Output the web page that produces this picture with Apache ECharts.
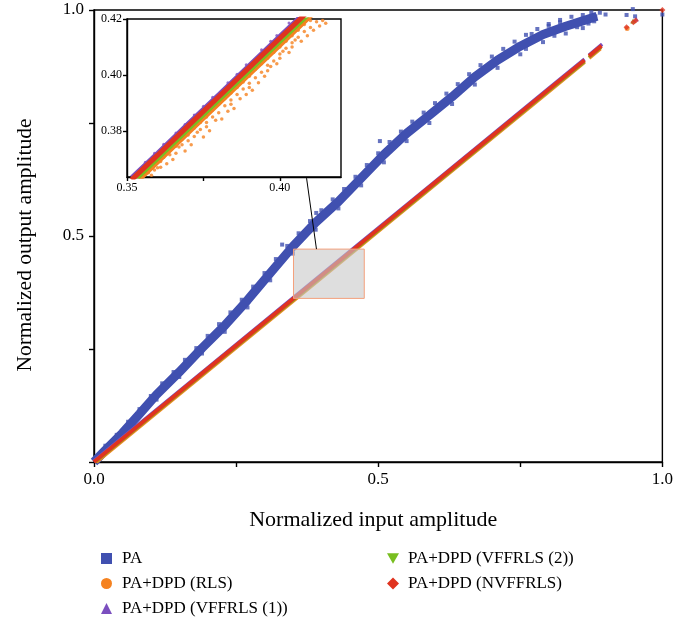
<!DOCTYPE html>
<html>
<head>
<meta charset="utf-8">
<script src="https://cdn.jsdelivr.net/npm/echarts@6/dist/echarts.min.js"></script>
<style>html,body{margin:0;padding:0;background:#fff}#c{width:676px;height:626px}</style>
</head>
<body>
<div id="c"></div>
<script>
// ---------- data ----------
const seriesNames = ['PA', 'PA+DPD (RLS)', 'PA+DPD (VFFRLS (1))', 'PA+DPD (VFFRLS (2))', 'PA+DPD (NVFFRLS)'];
const xTickLabels = ['0.0', '', '0.5', '', '1.0'];
const yTickLabels = ['', '', '0.5', '', '1.0'];
const insetXTicks = [0.35, 0.375, 0.40];
const insetXLabels = [0.35, 0.40];
const insetYTicks = [0.38, 0.40, 0.42];

// PA: centre of the dense band
const paBand = [[0,0],[0.02,0.026],[0.05,0.064],[0.08,0.106],[0.11,0.149],[0.15,0.199],[0.19,0.252],[0.23,0.302],[0.27,0.358],[0.31,0.418],[0.35,0.477],[0.39,0.530],[0.43,0.576],[0.47,0.628],[0.51,0.680],[0.55,0.727],[0.59,0.767],[0.63,0.808],[0.67,0.852],[0.71,0.889],[0.75,0.920],[0.79,0.946],[0.83,0.964],[0.86,0.976],[0.885,0.986]];
// PA: points on the upper rough edge of the band
const paUpper = [[0.02,0.036],[0.04,0.060],[0.06,0.089],[0.08,0.117],[0.10,0.146],[0.12,0.174],[0.14,0.199],[0.16,0.226],[0.18,0.252],[0.20,0.279],[0.22,0.305],[0.24,0.331],[0.26,0.359],[0.28,0.388],[0.30,0.418],[0.32,0.449],[0.34,0.478],[0.36,0.506],[0.38,0.533],[0.40,0.557],[0.42,0.581],[0.44,0.604],[0.46,0.631],[0.48,0.657],[0.50,0.683],[0.52,0.708],[0.54,0.731],[0.56,0.753],[0.58,0.773],[0.60,0.794],[0.62,0.815],[0.64,0.836],[0.66,0.858],[0.68,0.878],[0.70,0.897],[0.72,0.914],[0.74,0.930],[0.76,0.945],[0.78,0.958],[0.80,0.969],[0.82,0.978],[0.84,0.985]];
// PA: points on the lower rough edge of the band
const paLower = [[0.03,0.030],[0.07,0.081],[0.11,0.138],[0.15,0.188],[0.19,0.240],[0.23,0.288],[0.27,0.342],[0.31,0.402],[0.35,0.461],[0.39,0.514],[0.43,0.561],[0.47,0.612],[0.51,0.663],[0.55,0.710],[0.59,0.750],[0.63,0.792],[0.67,0.835],[0.71,0.872],[0.75,0.902],[0.79,0.929],[0.83,0.948],[0.86,0.960]];
// PA: outliers and the sparse top end
const paOutliers = [[0.331,0.481],[0.391,0.551],[0.503,0.71],[0.76,0.914],[0.77,0.947],[0.8,0.965],[0.81,0.943],[0.82,0.973],[0.85,0.962],[0.86,0.989],[0.87,0.97],[0.875,0.995],[0.88,0.975],[0.882,0.986],[0.89,0.994],[0.9,0.99],
  [0.937,0.989],[0.948,1.002],[0.952,0.986],[1.0,0.99]];

// DPD bands (gap marks a break in the band)
const gap = ['-','-'];
const rlsBand = [[0.004,0],[0.2,0.202],[0.4,0.408],[0.6,0.614],[0.8,0.82],[0.863,0.885],gap,[0.871,0.894],[0.891,0.915]];
const vff2Band = [[0.002,0],[0.2,0.2035],[0.4,0.4095],[0.6,0.6155],[0.8,0.8215],[0.863,0.8865],gap,[0.871,0.8955],[0.892,0.918]];
const vff1Band = [[0,0.0025],[0.2,0.2085],[0.4,0.4145],[0.6,0.6205],[0.8,0.8265],[0.863,0.8915],gap,[0.871,0.9005],[0.894,0.9245]];
const nvffBand = [[0,0],[0.1,0.103],[0.2,0.206],[0.3,0.309],[0.4,0.412],[0.5,0.515],[0.6,0.618],[0.7,0.721],[0.8,0.824],[0.863,0.889],gap,[0.871,0.898],[0.893,0.921]];
const rlsPoints = [[0.938,0.959]];
const vff2Points = [[0.948,0.975]];
const vff1Points = [[0.954,0.98]];
const nvffPoints = [[0.937,0.962],[0.949,0.973],[0.953,0.977],[1.0,1.0]];

// zoom box and arrow (data coordinates of the main chart)
const zoomBoxX = [0.351, 0.4755];
const zoomBoxY = [0.362, 0.471];
const arrowFrom = [0.3914, 0.471];
const arrowTo = [0.374, 0.628];

// inset (zoomed) data
const insetNvff = [[0.3515,0.3625],[0.36,0.3713],[0.37,0.3818],[0.38,0.3922],[0.39,0.4027],[0.40,0.4131],[0.41,0.4235]];
const insetVff1 = [[0.3515,0.3634],[0.36,0.3722],[0.37,0.3827],[0.38,0.3931],[0.39,0.4036],[0.40,0.4140],[0.41,0.4244]];
const insetVff2 = [[0.3525,0.3619],[0.36,0.3697],[0.37,0.3802],[0.38,0.3906],[0.39,0.4011],[0.40,0.4115],[0.41,0.4219]];
const insetRls = [[0.3525,0.3607],[0.36,0.3685],[0.37,0.3790],[0.38,0.3894],[0.39,0.3999],[0.40,0.4103],[0.41,0.4207],[0.415,0.4259]];
const insetRlsPoints = [[0.355,0.3640],[0.356,0.3652],[0.357,0.3650],[0.357,0.3665],[0.358,0.3641],[0.359,0.3660],[0.359,0.3685],[0.360,0.3668],[0.361,0.3690],[0.361,0.3670],[0.362,0.3705],[0.363,0.3682],[0.364,0.3715],[0.364,0.3735],[0.365,0.3698],[0.366,0.3745],[0.366,0.3720],[0.367,0.3742],[0.368,0.3770],[0.368,0.3750],[0.369,0.3728],[0.370,0.3785],[0.370,0.3765],[0.370,0.3800],[0.371,0.3750],[0.372,0.3810],[0.372,0.3780],[0.373,0.3795],[0.374,0.3830],[0.374,0.3805],[0.375,0.3778],[0.376,0.3850],[0.376,0.3830],[0.376,0.3815],[0.377,0.3800],[0.378,0.3875],[0.378,0.3850],[0.379,0.3838],[0.380,0.3895],[0.380,0.3865],[0.381,0.3842],[0.382,0.3915],[0.382,0.3890],[0.383,0.3870],[0.384,0.3935],[0.384,0.3910],[0.384,0.3895],[0.385,0.3880],[0.386,0.3955],[0.386,0.3930],[0.387,0.3915],[0.388,0.3975],[0.388,0.3950],[0.389,0.3930],[0.390,0.3995],[0.390,0.3970],[0.390,0.3955],[0.391,0.3945],[0.392,0.4020],[0.392,0.3990],[0.393,0.3972],[0.394,0.4040],[0.394,0.4010],[0.395,0.3995],[0.396,0.4060],[0.396,0.4035],[0.396,0.4015],[0.397,0.4030],[0.398,0.4080],[0.398,0.4050],[0.399,0.4040],[0.400,0.4100],[0.400,0.4075],[0.400,0.4060],[0.401,0.4085],[0.402,0.4120],[0.402,0.4095],[0.403,0.4080],[0.404,0.4140],[0.404,0.4115],[0.404,0.4100],[0.405,0.4125],[0.406,0.4160],[0.406,0.4135],[0.407,0.4120],[0.408,0.4180],[0.408,0.4155],[0.409,0.4140],[0.410,0.4195],[0.410,0.4170],[0.411,0.4160],[0.412,0.4190],[0.413,0.4175],[0.414,0.4195],[0.415,0.4185]];
const insetVff1Points = [[0.356,0.3688],[0.359,0.3720],[0.362,0.3752],[0.366,0.3792],[0.369,0.3823],[0.372,0.3857],[0.375,0.3888],[0.378,0.3920],[0.383,0.3972],[0.386,0.4002],[0.389,0.4036],[0.394,0.4090],[0.397,0.4120],[0.399,0.4141],[0.403,0.4186]];

// ---------- styles ----------
const C = { pa:'#4050B0', rls:'#F58220', vff1:'#7B4FBF', vff2:'#78BE20', nvff:'#E0331F' };
const FONT = 'Liberation Serif';

const chart = echarts.init(document.getElementById('c'), null, {renderer:'canvas'});

function band(name, data, color, width, xi) {
  return { name, type:'line', data, xAxisIndex:xi, yAxisIndex:xi, showSymbol:false, symbol:'none',
    lineStyle:{color, width}, itemStyle:{color}, clip:true, silent:true, connectNulls:false };
}
function pts(name, data, color, symbol, size, xi) {
  return { name, type:'scatter', data, xAxisIndex:xi, yAxisIndex:xi, symbol, symbolSize:size,
    itemStyle:{color}, clip: xi === 1, silent:true };
}

const axisLineStyle = {color:'#000', width:1.4};

chart.setOption({
  animation:false,
  backgroundColor:'#fff',
  grid:[
    {left:94, top:10, width:571, height:452, show:true, borderColor:'#000', borderWidth:1.4, backgroundColor:'transparent'},
    {left:127, top:19, width:214, height:158, show:true, borderColor:'#000', borderWidth:1.4, backgroundColor:'#fff'}
  ],
  xAxis:[
    {gridIndex:0, type:'value', min:0, max:1, interval:0.25,
     axisLine:{show:true, lineStyle:axisLineStyle}, axisTick:{show:true, inside:false, length:5, lineStyle:axisLineStyle},
     axisLabel:{margin:9, color:'#000', fontFamily:FONT, fontSize:17, formatter:(v,i)=>xTickLabels[i] || ''},
     splitLine:{show:false},
     name:'Normalized input amplitude', nameLocation:'middle', nameGap:47,
     nameTextStyle:{color:'#000', fontFamily:FONT, fontSize:22, padding:[0,10,0,0]}},
    {gridIndex:1, type:'value', min:0.35, max:0.42,
     axisLine:{show:true, onZero:false, lineStyle:axisLineStyle},
     axisTick:{show:true, inside:false, length:4, customValues:insetXTicks, lineStyle:axisLineStyle},
     axisLabel:{margin:5, color:'#000', fontFamily:FONT, fontSize:12, customValues:insetXLabels, formatter:v=>v.toFixed(2)},
     splitLine:{show:false}}
  ],
  yAxis:[
    {gridIndex:0, type:'value', min:0, max:1, interval:0.25,
     axisLine:{show:true, lineStyle:axisLineStyle}, axisTick:{show:true, inside:false, length:5, lineStyle:axisLineStyle},
     axisLabel:{margin:10, color:'#000', fontFamily:FONT, fontSize:17, formatter:(v,i)=>yTickLabels[i] || ''},
     splitLine:{show:false},
     name:'Normalized output amplitude', nameLocation:'middle', nameGap:58,
     nameTextStyle:{color:'#000', fontFamily:FONT, fontSize:21.5, padding:[0,18,0,0]}},
    {gridIndex:1, type:'value', min:0.3635, max:0.42,
     axisLine:{show:true, onZero:false, lineStyle:axisLineStyle},
     axisTick:{show:true, inside:false, length:4, customValues:insetYTicks, lineStyle:axisLineStyle},
     axisLabel:{margin:5, color:'#000', fontFamily:FONT, fontSize:12, customValues:insetYTicks, formatter:v=>v.toFixed(2)},
     splitLine:{show:false}}
  ],
  legend:[
    {left:96, top:545, orient:'vertical', itemGap:8, itemWidth:11, itemHeight:11,
     textStyle:{color:'#000', fontFamily:FONT, fontSize:17, padding:[0,0,0,5]},
     data:[{name:seriesNames[0], icon:'rect'},{name:seriesNames[1], icon:'circle'},{name:seriesNames[2], icon:'triangle'}]},
    {left:382, top:545, orient:'vertical', itemGap:8, itemWidth:12, itemHeight:12,
     textStyle:{color:'#000', fontFamily:FONT, fontSize:17, padding:[0,0,0,4]},
     data:[{name:seriesNames[3], icon:'path://M0,0L2,0L1,1.75Z'},{name:seriesNames[4], icon:'diamond'}]}
  ],
  series:[
    band(seriesNames[0], paBand, C.pa, 9, 0),
    pts(seriesNames[0], paUpper, C.pa, 'rect', 4, 0),
    pts(seriesNames[0], paLower, C.pa, 'rect', 4, 0),
    pts(seriesNames[0], paOutliers, C.pa, 'rect', 4, 0),
    band(seriesNames[1], rlsBand, C.rls, 4, 0),
    pts(seriesNames[1], rlsPoints, C.rls, 'circle', 5, 0),
    band(seriesNames[3], vff2Band, C.vff2, 3.5, 0),
    pts(seriesNames[3], vff2Points, C.vff2, 'triangle', 5, 0),
    band(seriesNames[2], vff1Band, C.vff1, 3.5, 0),
    pts(seriesNames[2], vff1Points, C.vff1, 'triangle', 5, 0),
    band(seriesNames[4], nvffBand, C.nvff, 4, 0),
    pts(seriesNames[4], nvffPoints, C.nvff, 'diamond', 6, 0),
    {type:'scatter', data:[], xAxisIndex:0, yAxisIndex:0, z:10, silent:true,
     markArea:{silent:true, z:10, itemStyle:{color:'rgba(200,200,200,0.6)', borderColor:'#F4A07C', borderWidth:1},
       data:[[{coord:[zoomBoxX[0], zoomBoxY[0]]},{coord:[zoomBoxX[1], zoomBoxY[1]]}]]},
     markLine:{silent:true, z:10, symbol:['none','arrow'], symbolSize:[0,9], label:{show:false},
       lineStyle:{color:'#000', width:1, type:'solid'},
       data:[[{coord:arrowFrom},{coord:arrowTo}]]}},
    // inset
    pts(seriesNames[1], insetRlsPoints, C.rls, 'circle', 3.5, 1),
    band(seriesNames[1], insetRls, C.rls, 3.5, 1),
    band(seriesNames[3], insetVff2, C.vff2, 3, 1),
    pts(seriesNames[2], insetVff1Points, C.vff1, 'circle', 3, 1),
    band(seriesNames[2], insetVff1, C.vff1, 4, 1),
    band(seriesNames[4], insetNvff, C.nvff, 5, 1)
  ]
});
</script>
</body>
</html>
